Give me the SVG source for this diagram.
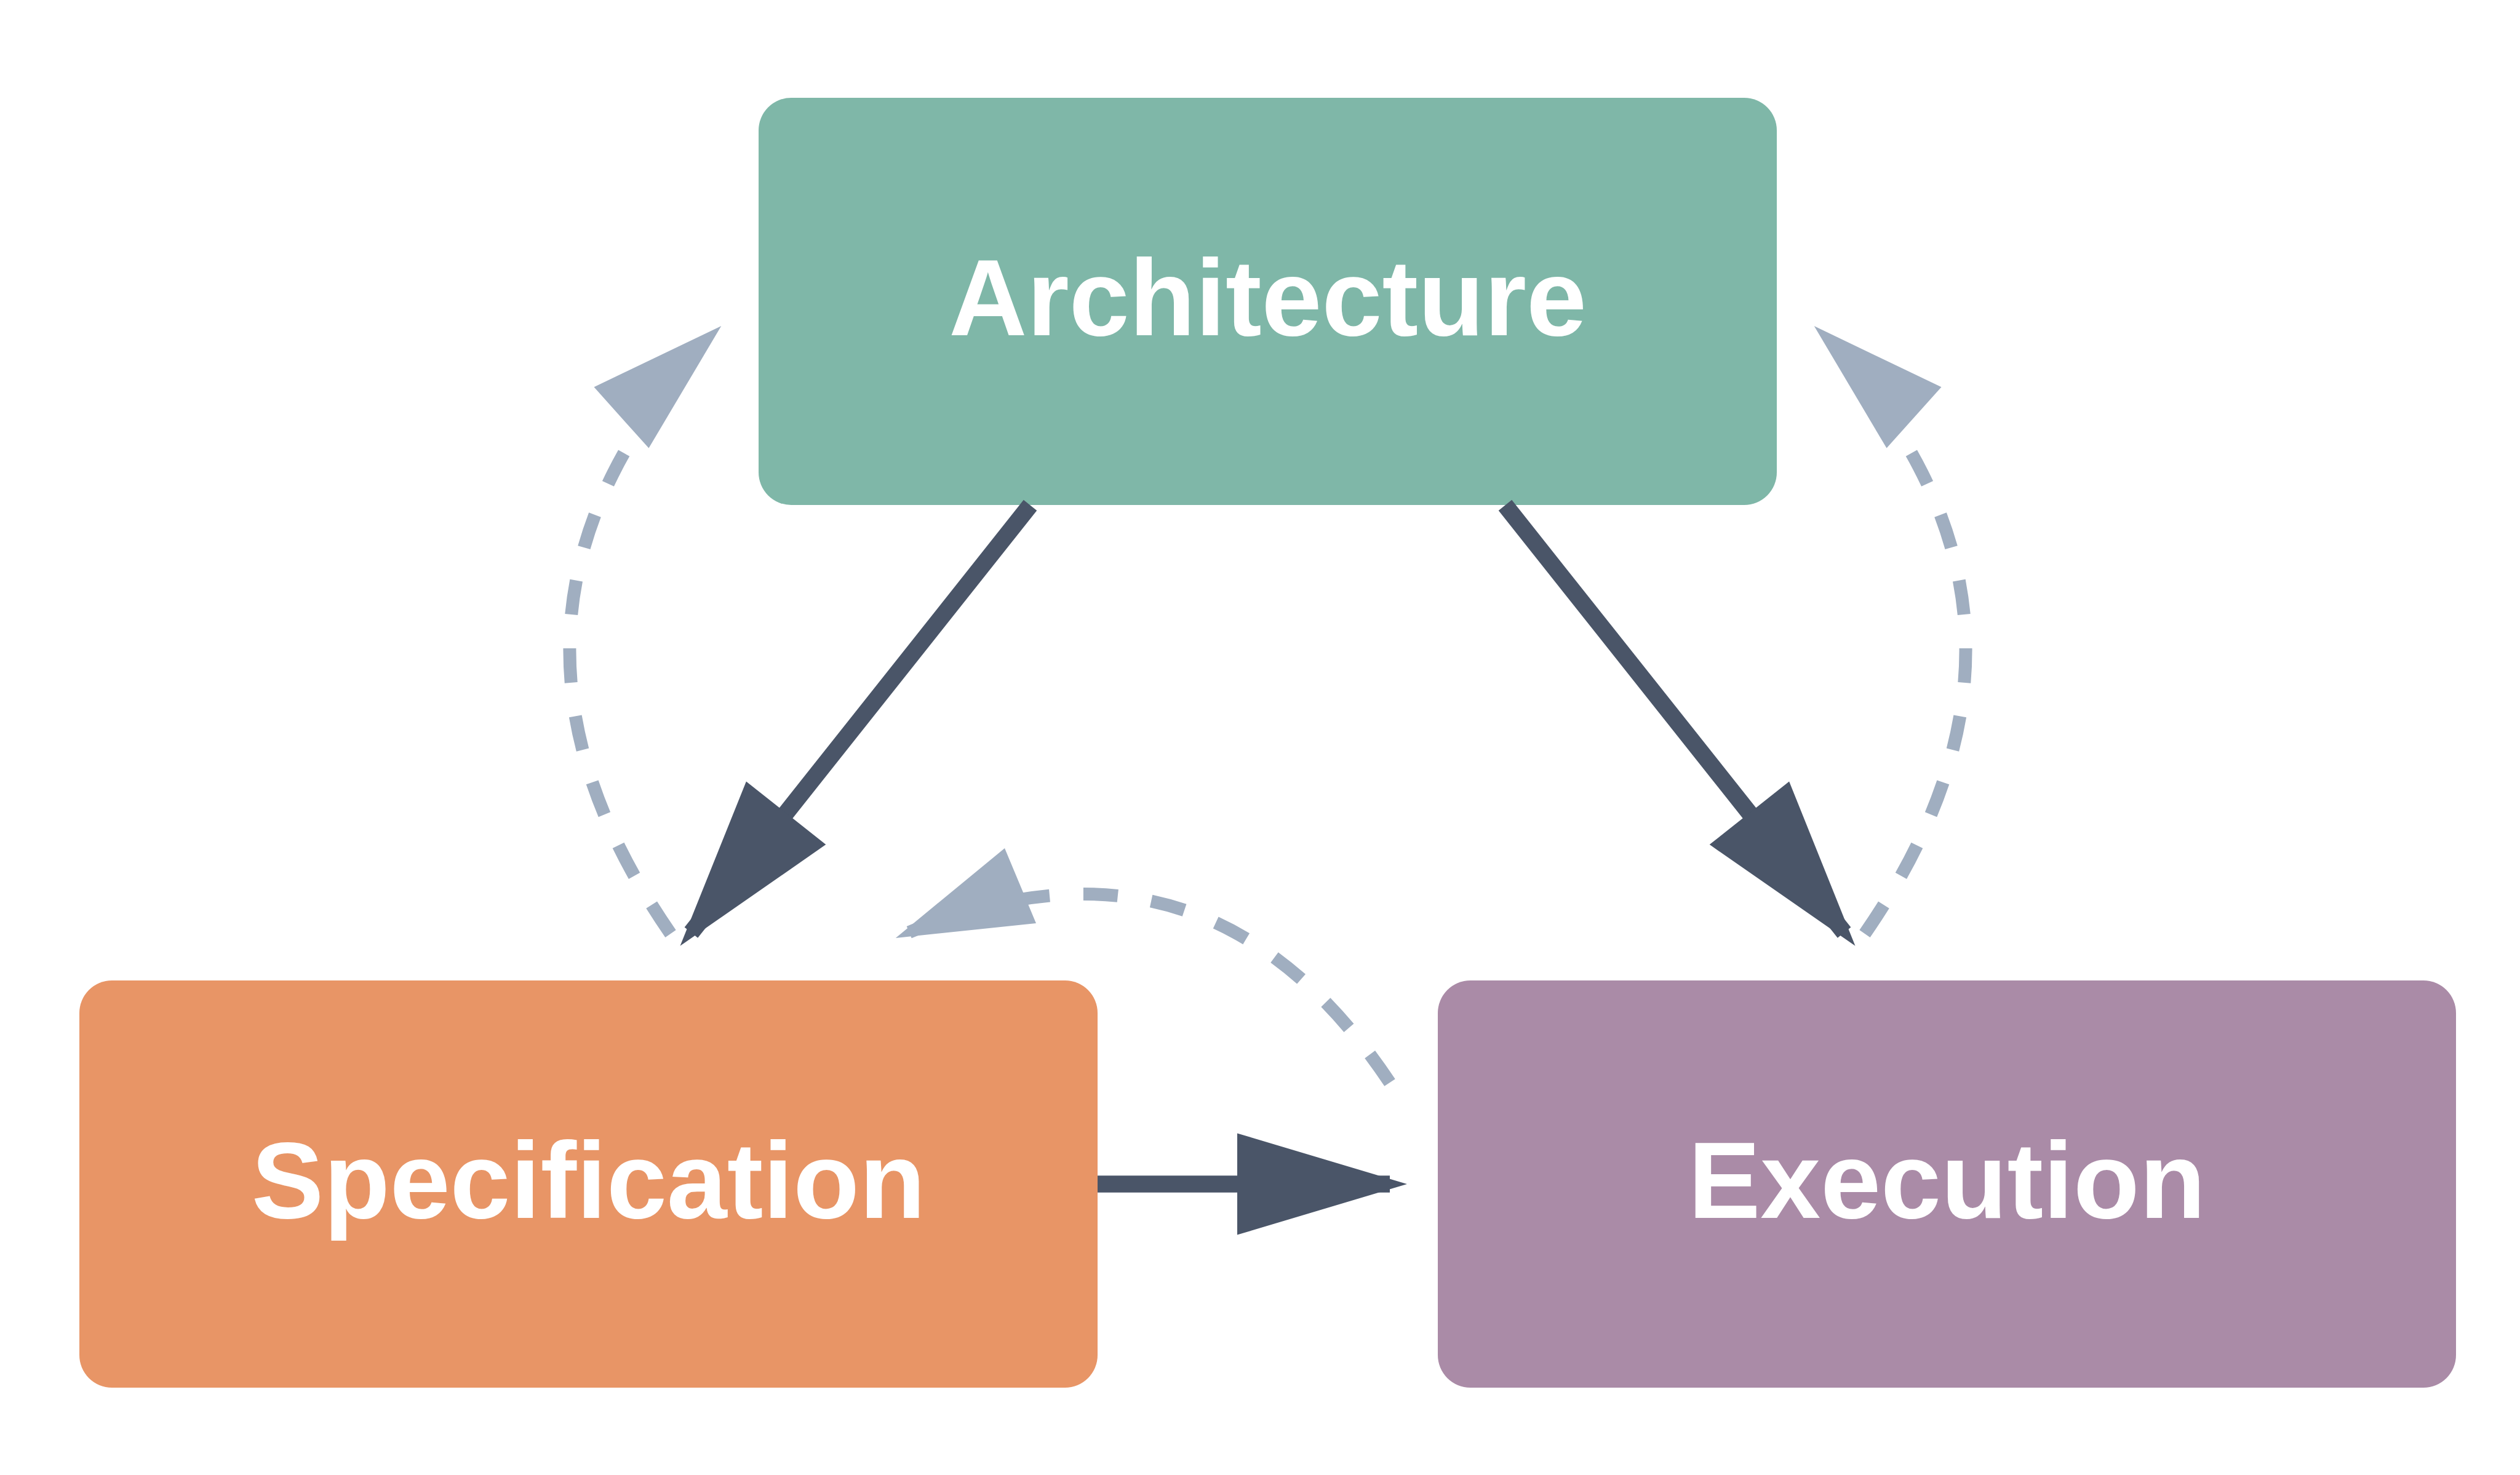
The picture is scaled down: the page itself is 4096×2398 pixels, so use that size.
<svg xmlns="http://www.w3.org/2000/svg" width="4096" height="2398" viewBox="0 0 4096 2398">
  <style>
    .box { stroke: none; }
    .label { font-family: "Liberation Sans", Arial, sans-serif; font-weight: bold; font-size: 176px; fill: #FFFFFF; text-anchor: middle; }
    .solid { fill: none; stroke: #4A5568; stroke-width: 27.5; stroke-linecap: butt; }
    .solid-head { fill: #4A5568; stroke: none; }
    .dashed { fill: none; stroke: #A0AEC0; stroke-width: 21; stroke-linecap: butt; stroke-dasharray: 56 55; }
    .dashed-head { fill: #A0AEC0; stroke: none; }
  </style>
  <rect x="0" y="0" width="4096" height="2398" fill="#FFFFFF"/>
  <g id="nodes">
    <g id="node-architecture">
      <rect class="box" x="1233" y="159" width="1655" height="662" rx="53" ry="53" fill="#7FB7A8"/>
      <text class="label" x="2060.5" y="545">Architecture</text>
    </g>
    <g id="node-specification">
      <rect class="box" x="129" y="1594" width="1655" height="662" rx="53" ry="53" fill="#E89566"/>
      <text class="label" x="956.5" y="1980">Specification</text>
    </g>
    <g id="node-execution">
      <rect class="box" x="2337" y="1594" width="1655" height="662" rx="53" ry="53" fill="#AA8BA7"/>
      <text class="label" x="3164.5" y="1980">Execution</text>
    </g>
  </g>
  <g id="connectors">
    <g id="edge-architecture-specification">
      <line class="solid" x1="1674.5" y1="821.4" x2="1123.4" y2="1516.1"/>
      <polygon class="solid-head" points="1105.5,1537.8 1212.9,1270.5 1342.3,1373.1"/>
    </g>
    <g id="edge-architecture-execution">
      <line class="solid" x1="2446.5" y1="821.4" x2="2997.6" y2="1516.1"/>
      <polygon class="solid-head" points="3015.5,1537.8 2908.1,1270.5 2778.7,1373.1"/>
    </g>
    <g id="edge-specification-execution">
      <line class="solid" x1="1784" y1="1925" x2="2259" y2="1925"/>
      <polygon class="solid-head" points="2011,1842.4 2287,1925 2011,2007.6"/>
    </g>
    <g id="edge-specification-architecture">
      <path class="dashed" d="M1090,1518 Q779.75,1069.2 1056.2,669.6"/>
      <polygon class="dashed-head" points="1172.3,530 965.5,629.3 1054.5,728.6"/>
    </g>
    <g id="edge-execution-architecture">
      <path class="dashed" d="M3031,1518 Q3341.25,1069.2 3064.8,669.6"/>
      <polygon class="dashed-head" points="2948.7,530 3155.5,629.3 3066.5,728.6"/>
    </g>
    <g id="edge-execution-specification">
      <path class="dashed" d="M2259,1760 Q1962.7,1315.6 1477.7,1515.6"/>
      <polygon class="dashed-head" points="1455.8,1524.9 1633,1379 1684,1501"/>
    </g>
  </g>
</svg>
